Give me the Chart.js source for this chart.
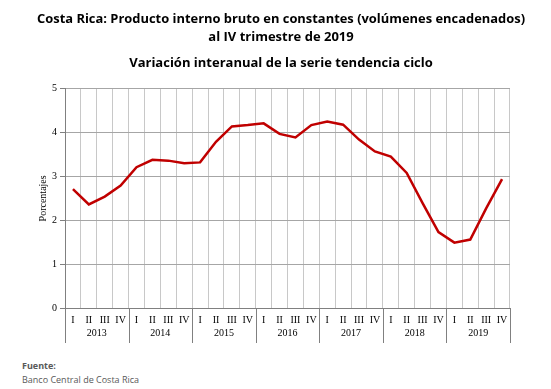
<!DOCTYPE html>
<html>
<head>
<meta charset="utf-8">
<script src="https://cdn.jsdelivr.net/npm/chart.js@4"></script>
<style>
  body { margin: 0; background: #fff; }
  #wrap { position: absolute; left: 0; top: 0; width: 551px; height: 352px; }
  .src { position: absolute; left: 22px; font-family: "Open Sans", sans-serif; font-size: 9px; color: #595959; }
</style>
</head>
<body>
<div id="wrap"><canvas id="chart"></canvas></div>
<div class="src" style="top:359px;font-weight:bold;">Fuente:</div>
<div class="src" style="top:373px;">Banco Central de Costa Rica</div>
<script>
// trimestres y años
const quarters = ['I', 'II', 'III', 'IV'];
const years = ['2013', '2014', '2015', '2016', '2017', '2018', '2019'];
const labels = [];
years.forEach(y => quarters.forEach(q => labels.push(q)));

// variación interanual, serie tendencia ciclo (%)
const values = [
  2.71, 2.36, 2.54, 2.79,
  3.21, 3.38, 3.36, 3.30,
  3.32, 3.79, 4.14, 4.17,
  4.21, 3.97, 3.89, 4.17,
  4.25, 4.18, 3.84, 3.57,
  3.45, 3.08, 2.39, 1.73,
  1.49, 1.56, 2.27, 2.94
];
const yTicks = [0, 1, 2, 3, 4, 5];

const serif = '"Liberation Serif", "Times New Roman", serif';

// separadores de años debajo del eje
const yearLines = {
  id: 'yearLines',
  afterDraw(chart) {
    const x = chart.scales.x;
    const x2 = chart.scales.x2;
    const c = chart.ctx;
    const step = x.width / labels.length;
    c.save();
    c.strokeStyle = '#808080';
    c.lineWidth = 1;
    for (let k = 0; k <= years.length; k++) {
      const px = Math.round(x.left + k * quarters.length * step) + 0.5;
      c.beginPath();
      c.moveTo(px, x.top);
      c.lineTo(px, x2.bottom);
      c.stroke();
    }
    c.restore();
  }
};

new Chart(document.getElementById('chart'), {
  type: 'line',
  data: {
    labels: labels,
    datasets: [{
      data: values,
      borderColor: '#c00000',
      borderWidth: 2.5,
      pointRadius: 0,
      tension: 0,
      fill: false
    }]
  },
  options: {
    responsive: true,
    maintainAspectRatio: false,
    animation: false,
    layout: { padding: { left: 37, right: 26, top: 0, bottom: 9 } },
    plugins: {
      legend: { display: false },
      tooltip: { enabled: false },
      title: {
        display: true,
        text: ['Costa Rica: Producto interno bruto en constantes (volúmenes encadenados)', 'al IV trimestre de 2019'],
        color: '#000',
        font: { family: '"Open Sans", sans-serif', size: 13, weight: 'bold', lineHeight: 1.35 },
        padding: { top: 11, bottom: 4 }
      },
      subtitle: {
        display: true,
        text: 'Variación interanual de la serie tendencia ciclo',
        color: '#000',
        font: { family: '"Open Sans", sans-serif', size: 13, weight: 'bold' },
        padding: { top: 5, bottom: 18 }
      }
    },
    scales: {
      x: {
        type: 'category',
        offset: true,
        grid: { offset: true, color: '#c8c8c8', tickLength: 0, drawTicks: false },
        border: { color: '#808080' },
        ticks: { color: '#000', font: { family: serif, size: 10 }, padding: 6, maxRotation: 0, autoSkip: false },
        afterFit(s) { s.height = 17; }
      },
      x2: {
        type: 'category',
        labels: years,
        offset: true,
        position: 'bottom',
        grid: { display: false, drawTicks: false },
        border: { display: false },
        ticks: { color: '#000', font: { family: serif, size: 10 }, padding: 2, maxRotation: 0, autoSkip: false },
        afterFit(s) { s.height = 18; }
      },
      y: {
        min: 0,
        max: 5,
        afterBuildTicks(s) { s.ticks = yTicks.map(v => ({ value: v })); },
        grid: { color: '#a6a6a6', tickLength: 5, tickColor: '#808080' },
        border: { color: '#808080' },
        ticks: { color: '#000', font: { family: serif, size: 10 }, padding: 3 },
        title: { display: true, text: 'Porcentajes', color: '#000', font: { family: serif, size: 10 }, padding: 0 },
        afterFit(s) { s.width = 28; }
      },
      // espacio vacío a la derecha del área de trazado
      yRight: {
        position: 'right',
        display: true,
        grid: { display: false, drawTicks: false },
        border: { display: false },
        ticks: { display: false },
        afterFit(s) { s.width = 15; }
      }
    }
  },
  plugins: [yearLines]
});
</script>
</body>
</html>
